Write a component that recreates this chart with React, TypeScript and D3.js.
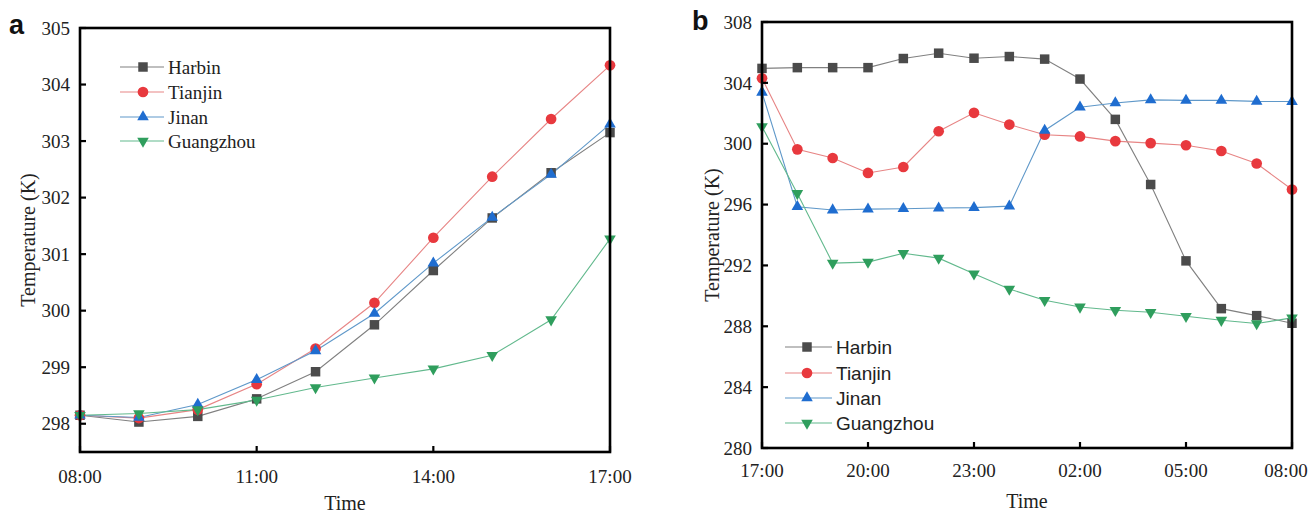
import React from "react";
import * as d3 from "d3";

// ---------- Data ----------
const hoursA = ["08:00", "09:00", "10:00", "11:00", "12:00", "13:00", "14:00", "15:00", "16:00", "17:00"];
const harbinA = [298.15, 298.03, 298.13, 298.44, 298.92, 299.75, 300.71, 301.64, 302.44, 303.15];
const tianjinA = [298.15, 298.1, 298.25, 298.7, 299.33, 300.14, 301.29, 302.37, 303.39, 304.34];
const jinanA = [298.15, 298.11, 298.34, 298.78, 299.29, 299.95, 300.84, 301.65, 302.41, 303.3];
const guangzhouA = [298.15, 298.18, 298.25, 298.42, 298.64, 298.81, 298.97, 299.21, 299.84, 301.27];
const yTicksA = [298, 299, 300, 301, 302, 303, 304, 305];
const xTickLabelsA = ["08:00", "11:00", "14:00", "17:00"];

const hoursB = ["17:00", "18:00", "19:00", "20:00", "21:00", "22:00", "23:00", "00:00", "01:00", "02:00", "03:00", "04:00", "05:00", "06:00", "07:00", "08:00"];
const harbinB = [304.95, 305, 305, 305, 305.6, 305.95, 305.62, 305.73, 305.56, 304.25, 301.6, 297.32, 292.3, 289.16, 288.7, 288.2];
const tianjinB = [304.3, 299.63, 299.06, 298.08, 298.47, 300.82, 302.03, 301.26, 300.59, 300.48, 300.17, 300.04, 299.9, 299.52, 298.7, 296.99];
const jinanB = [303.38, 295.86, 295.64, 295.7, 295.73, 295.77, 295.8, 295.9, 300.87, 302.4, 302.68, 302.88, 302.85, 302.85, 302.78, 302.77];
const guangzhouB = [301.13, 296.73, 292.15, 292.22, 292.8, 292.48, 291.45, 290.45, 289.71, 289.27, 289.05, 288.92, 288.66, 288.4, 288.18, 288.55];
const yTicksB = [280, 284, 288, 292, 296, 300, 304, 308];
const xTickLabelsB = ["17:00", "20:00", "23:00", "02:00", "05:00", "08:00"];

const cityNames = ["Harbin", "Tianjin", "Jinan", "Guangzhou"];

// ---------- Styles ----------
const lineColors = ["#808080", "#e78585", "#5f98c9", "#62b98d"];
const markColors = ["#4b4b4b", "#e8393e", "#1f6dd0", "#2f9e5d"];
const serif = "'Liberation Serif', 'Times New Roman', serif";
const sans = "'Liberation Sans', Arial, sans-serif";

type Sym = { type: d3.SymbolType; size: number; rot: number };
const symbols: Sym[] = [
  { type: d3.symbolSquare, size: 90, rot: 0 },
  { type: d3.symbolCircle, size: 90, rot: 0 },
  { type: d3.symbolTriangle, size: 58, rot: 0 },
  { type: d3.symbolTriangle, size: 58, rot: 180 },
];

function Marker({ x, y, i }: { x: number; y: number; i: number }) {
  const s = symbols[i];
  const path = d3.symbol().type(s.type).size(s.size)() || "";
  return <path d={path} transform={`translate(${x},${y}) rotate(${s.rot})`} fill={markColors[i]} />;
}

type PanelProps = {
  left: number; right: number; top: number; bottom: number;
  yDomain: [number, number];
  n: number;
  series: number[][];
  yTicks: number[];
  xTickLabels: string[];
  xTickStep: number;
  yLabelRight: number;
  xLabelBaseline: number;
  timeBaseline: number;
  tempX: number;
  letter: string; letterX: number; letterY: number;
  legend: { lineX0: number; lineX1: number; markX: number; textX: number; rows: number[]; font: string };
};

function Panel(p: PanelProps) {
  const x = d3.scaleLinear().domain([0, p.n - 1]).range([p.left, p.right]);
  const y = d3.scaleLinear().domain(p.yDomain).range([p.bottom, p.top]);
  const line = d3.line<number>().x((_, i) => x(i)).y((d) => y(d));
  const cx = (p.left + p.right) / 2;
  const cy = (p.top + p.bottom) / 2;
  return (
    <g>
      {p.series.map((s, i) => (
        <path key={"l" + i} d={line(s) || ""} fill="none" stroke={lineColors[i]} strokeWidth={1.1} />
      ))}
      {p.series.map((s, i) => (
        <g key={"m" + i}>
          {s.map((v, j) => (
            <Marker key={j} x={x(j)} y={y(v)} i={i} />
          ))}
        </g>
      ))}
      <rect x={p.left} y={p.top} width={p.right - p.left} height={p.bottom - p.top} fill="none" stroke="#000" strokeWidth={2.6} />
      {p.yTicks.map((t) => (
        <g key={"yt" + t}>
          <line x1={p.left} x2={p.left + 6} y1={y(t)} y2={y(t)} stroke="#000" strokeWidth={2.2} />
          <text x={p.yLabelRight} y={y(t)} dy="0.35em" textAnchor="end" fontFamily={serif} fontSize={19} fill="#222">
            {t}
          </text>
        </g>
      ))}
      {p.xTickLabels.map((lab, k) => {
        const xi = x(k * p.xTickStep);
        const lx = Math.min(xi, 1312 - 26);
        return (
          <g key={"xt" + k}>
            <line x1={xi} x2={xi} y1={p.bottom} y2={p.bottom - 6} stroke="#000" strokeWidth={2.2} />
            <text x={lx} y={p.xLabelBaseline} textAnchor="middle" fontFamily={serif} fontSize={19} fill="#222">
              {lab}
            </text>
          </g>
        );
      })}
      <text x={cx} y={p.timeBaseline} textAnchor="middle" fontFamily={serif} fontSize={20} fill="#222">
        Time
      </text>
      <text
        transform={`translate(${p.tempX},${cy}) rotate(-90)`}
        textAnchor="middle"
        dy="0.35em"
        fontFamily={serif}
        fontSize={20}
        fill="#222"
      >
        Temperature (K)
      </text>
      <text x={p.letterX} y={p.letterY} fontFamily={sans} fontWeight="bold" fontSize={27} fill="#111">
        {p.letter}
      </text>
      {cityNames.map((name, i) => {
        const ry = p.legend.rows[i];
        return (
          <g key={"lg" + i}>
            <line x1={p.legend.lineX0} x2={p.legend.lineX1} y1={ry} y2={ry} stroke={lineColors[i]} strokeWidth={1.1} />
            <Marker x={p.legend.markX} y={ry} i={i} />
            <text x={p.legend.textX} y={ry} dy="0.35em" fontFamily={p.legend.font} fontSize={19} fill="#222">
              {name}
            </text>
          </g>
        );
      })}
    </g>
  );
}

export default function App() {
  return (
    <svg width={1312} height={513} style={{ position: "absolute", left: 0, top: 0, background: "#fff" }}>
      <rect width={1312} height={513} fill="#fff" />
      <Panel
        left={80} right={610} top={28} bottom={452}
        yDomain={[297.5, 305]}
        n={hoursA.length}
        series={[harbinA, tianjinA, jinanA, guangzhouA]}
        yTicks={yTicksA}
        xTickLabels={xTickLabelsA}
        xTickStep={3}
        yLabelRight={70}
        xLabelBaseline={483}
        timeBaseline={510}
        tempX={28}
        letter="a" letterX={9} letterY={34}
        legend={{ lineX0: 120, lineX1: 164, markX: 143, textX: 168, rows: [67, 92, 117, 141], font: serif }}
      />
      <Panel
        left={762} right={1292} top={22} bottom={448}
        yDomain={[280, 308]}
        n={hoursB.length}
        series={[harbinB, tianjinB, jinanB, guangzhouB]}
        yTicks={yTicksB}
        xTickLabels={xTickLabelsB}
        xTickStep={3}
        yLabelRight={752}
        xLabelBaseline={477}
        timeBaseline={508}
        tempX={712}
        letter="b" letterX={692} letterY={30}
        legend={{ lineX0: 785, lineX1: 832, markX: 807, textX: 836, rows: [347, 373, 398, 423], font: sans }}
      />
    </svg>
  );
}
